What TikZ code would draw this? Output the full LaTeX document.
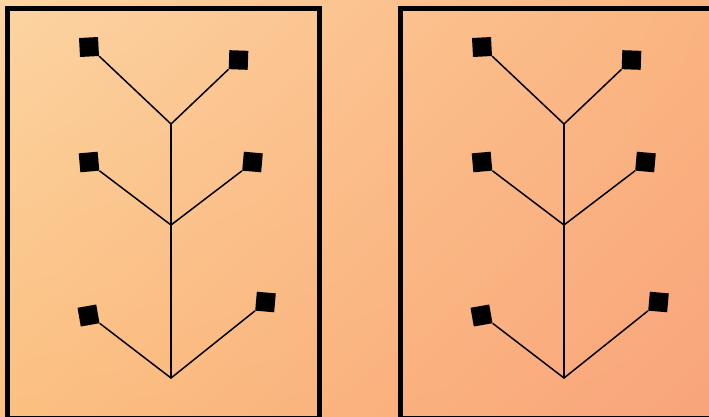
\documentclass[tikz,border=0pt]{standalone}
\usetikzlibrary{shadings}
\definecolor{bgul}{RGB}{252,212,162}
\definecolor{bgur}{RGB}{250,180,128}
\definecolor{bgll}{RGB}{251,192,128}
\definecolor{bglr}{RGB}{249,164,124}
\tikzset{
  panel/.style={draw=black, line width=5pt},
  leaf/.style={fill=black, draw=none, minimum size=19pt, inner sep=0pt},
  branch/.style={draw=black, line width=1.5pt},
}
\begin{document}
\begin{tikzpicture}[x=1pt,y=-1pt]
\useasboundingbox (0,0) rectangle (709,416);
\clip (0,0) rectangle (709,416);
\shade[upper left=bgul, upper right=bgur, lower left=bgll, lower right=bglr] (0,0) rectangle (709,416);
\path[panel] (7.5,8.5) rectangle (319,418.5);
\path[panel] (400.5,8.5) rectangle (716,418.5);
\foreach \p/\dx in {a/0,b/393}{
  \coordinate (\p j1) at (171+\dx,124);
  \coordinate (\p j2) at (171+\dx,225);
  \coordinate (\p j3) at (171+\dx,378);
  \node[leaf, rotate=3]  (\p s1) at (89+\dx,47) {};
  \node[leaf, rotate=-2] (\p s2) at (238.5+\dx,60) {};
  \node[leaf, rotate=5]  (\p s3) at (89+\dx,162) {};
  \node[leaf, rotate=-5] (\p s4) at (252.5+\dx,162) {};
  \node[leaf, rotate=10] (\p s5) at (88.5+\dx,315.5) {};
  \node[leaf, rotate=-5] (\p s6) at (265.5+\dx,302) {};
  \path[branch] (\p j1) -- (\p j3);
  \path[branch] (\p s1.south east) -- (\p j1) -- (\p s2.south west);
  \path[branch] (\p s3.south east) -- (\p j2) -- (\p s4.south west);
  \path[branch] (\p s5.south east) -- (\p j3) -- (\p s6.south west);
}
\end{tikzpicture}
\end{document}
